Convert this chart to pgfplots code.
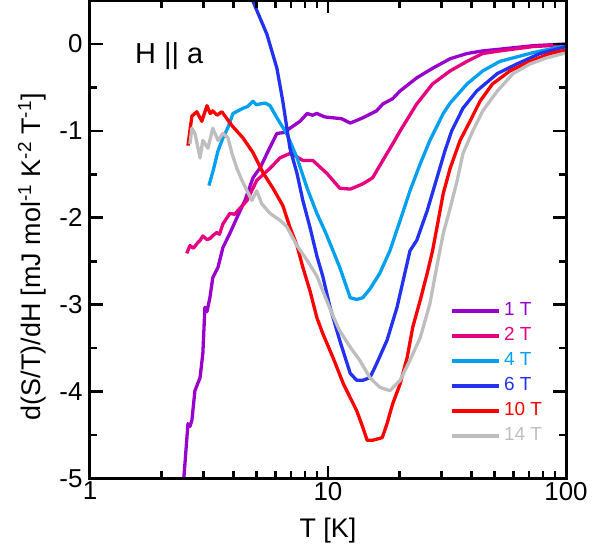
\documentclass[border=0pt]{standalone}
\usepackage{fontspec}
\setmainfont{Liberation Sans}
\usepackage{pgfplots}
\pgfplotsset{compat=1.18}

\definecolor{c1}{RGB}{153,0,204}
\definecolor{c2}{RGB}{230,0,130}
\definecolor{c4}{RGB}{0,160,240}
\definecolor{c6}{RGB}{35,50,240}
\definecolor{c10}{RGB}{255,0,0}
\definecolor{c14}{RGB}{190,190,190}

\begin{document}
\begin{tikzpicture}
\begin{axis}[
    xmode=log,
    scale only axis,
    axis on top,
    width=476bp, height=478bp,
    at={(0,0)}, anchor=south west,
    xmin=1, xmax=100, ymin=-5, ymax=0.5,
    xtick={1,10,100}, xticklabels={1,10,100},
    ytick={-5,-4,-3,-2,-1,0}, yticklabels={-5,-4,-3,-2,-1,0},
    minor y tick num=1,
    tick align=inside,
    major tick length=13bp, minor tick length=7.5bp,
    tick style={black, line width=2.6bp},
    axis line style={line width=3bp},
    ticklabel style={font=\fontsize{26}{31}\selectfont},
    yticklabel style={xshift=-4bp},
    label style={font=\fontsize{27}{32}\selectfont},
    xlabel={T [K]},
    xlabel style={at={(axis description cs:0.5,-0.1234)}, anchor=base},
    ylabel={d(S/T)/dH [mJ mol\textsuperscript{-1} K\textsuperscript{-2} T\textsuperscript{-1}]},
    ylabel style={at={(axis description cs:-0.105,0.464)}, anchor=base},
    legend style={at={(axis description cs:0.756,0.368)}, anchor=north west,
        draw=none, fill=none, inner sep=0pt, outer sep=0pt, row sep=8bp,
        font=\fontsize{19}{22}\selectfont,
        nodes={inner sep=0pt, text height=13bp, text depth=4bp},
        /tikz/every odd column/.append style={column sep=4bp}},
    legend cell align=left,
    legend image code/.code={\draw[#1] (0bp,0bp) -- (47bp,0bp);},
    every axis plot/.append style={line width=3.3bp, line join=round},
]
% 1 T
\addplot[c1] coordinates {
(2.47,-5.05) (2.48,-4.99) (2.58,-4.37) (2.63,-4.40) (2.68,-4.33) (2.76,-3.99) (2.90,-3.84)
(2.98,-3.56) (3.04,-3.03) (3.10,-3.08) (3.19,-2.92) (3.28,-2.69) (3.45,-2.57) (3.62,-2.34)
(3.87,-2.18) (4.14,-2.00) (4.48,-1.80) (4.84,-1.54) (5.20,-1.42) (5.54,-1.26) (6.10,-1.03)
(6.50,-1.02) (6.92,-0.97) (7.63,-0.89) (8.17,-0.80) (8.6,-0.82) (8.98,-0.80) (9.7,-0.84) (10.5,-0.85)
(11.4,-0.86) (12.4,-0.91) (13.2,-0.88) (14.0,-0.85) (16.0,-0.77) (17.0,-0.69) (18.7,-0.63)
(20.1,-0.54) (23.6,-0.39) (27.5,-0.28) (32.6,-0.17) (38.4,-0.11) (44.7,-0.08) (52.8,-0.06)
(72.7,-0.02) (100,0.0)
};
\addlegendentry{\textcolor{c1}{1 T}}
% 2 T
\addplot[c2] coordinates {
(2.55,-2.41) (2.63,-2.32) (2.72,-2.35) (2.81,-2.30) (2.90,-2.26) (2.98,-2.21) (3.10,-2.25)
(3.19,-2.24) (3.30,-2.20) (3.41,-2.17) (3.50,-2.19) (3.62,-2.07) (3.87,-1.95) (4.05,-1.96)
(4.27,-1.89) (4.57,-1.80) (5.02,-1.57) (5.71,-1.43) (6.29,-1.31) (6.92,-1.26) (7.40,-1.30)
(7.84,-1.34) (8.63,-1.34) (9.9,-1.49) (11.2,-1.66) (12.4,-1.67) (13.2,-1.64) (14.0,-1.61)
(15.4,-1.54) (17.0,-1.34) (18.7,-1.15) (20.1,-1.00) (23.6,-0.69) (27.5,-0.46) (32.6,-0.31)
(38.4,-0.20) (44.7,-0.11) (52.8,-0.08) (72.7,-0.03) (100,-0.01)
};
\addlegendentry{\textcolor{c2}{2 T}}
% 4 T
\addplot[c4] coordinates {
(3.16,-1.63) (3.29,-1.46) (3.45,-1.23) (3.62,-1.08) (3.80,-0.96) (3.99,-0.80) (4.39,-0.74)
(4.60,-0.72) (4.84,-0.66) (5.00,-0.70) (5.18,-0.69) (5.45,-0.68) (5.71,-0.71) (6.10,-0.85)
(6.70,-1.03) (7.41,-1.31) (8.17,-1.66) (8.98,-1.95) (9.70,-2.15) (10.5,-2.38) (11.2,-2.57)
(12.4,-2.92) (13.2,-2.94) (14.0,-2.92) (15.0,-2.82) (16.5,-2.64) (18.2,-2.38) (20.1,-2.03)
(22.1,-1.69) (24.4,-1.38) (26.8,-1.11) (30.5,-0.80) (32.6,-0.68) (38.4,-0.46) (44.7,-0.31)
(52.8,-0.20) (72.7,-0.10) (100,-0.02)
};
\addlegendentry{\textcolor{c4}{4 T}}
% 6 T
\addplot[c6] coordinates {
(4.75,0.60) (4.84,0.49) (5.54,0.11) (6.10,-0.28) (6.46,-0.66) (6.92,-1.20)
(7.41,-1.49) (7.84,-1.80) (8.40,-2.11) (8.98,-2.44) (9.50,-2.67) (10.2,-3.03)
(11.2,-3.41) (12.4,-3.79) (13.2,-3.87) (14.0,-3.87) (15.0,-3.84) (16.0,-3.68)
(17.7,-3.41) (19.5,-3.03) (20.7,-2.72) (22.1,-2.38) (23.6,-2.26) (26.1,-1.92)
(28.7,-1.54) (31.0,-1.23) (33.1,-1.00) (36.9,-0.74) (42.2,-0.54) (51.5,-0.34)
(62.2,-0.23) (77.8,-0.11) (100,-0.03)
};
\addlegendentry{\textcolor{c6}{6 T}}
% 10 T
\addplot[c10] coordinates {
(2.58,-1.17) (2.68,-0.83) (2.81,-0.78) (2.95,-0.89) (3.10,-0.71) (3.20,-0.80) (3.28,-0.77)
(3.42,-0.82) (3.58,-0.78) (3.95,-0.94) (4.39,-1.08) (4.84,-1.25) (5.33,-1.48) (5.87,-1.66)
(6.46,-1.86) (6.92,-2.11) (7.41,-2.32) (7.84,-2.57) (8.40,-2.84) (8.98,-3.15)
(9.50,-3.33) (10.5,-3.61) (11.6,-3.91) (12.4,-4.07) (13.2,-4.22) (14.0,-4.41)
(14.6,-4.56) (15.4,-4.56) (16.9,-4.53) (17.7,-4.37) (18.7,-4.14) (20.1,-3.91)
(21.5,-3.61) (22.7,-3.26) (24.4,-2.95) (26.1,-2.64) (27.5,-2.38) (28.7,-2.11)
(30.5,-1.72) (32.6,-1.43) (35.9,-1.11) (39.5,-0.89) (43.5,-0.66) (49.1,-0.46)
(58.2,-0.31) (70.6,-0.20) (85.7,-0.11) (100,-0.07)
};
\addlegendentry{\textcolor{c10}{10 T}}
% 14 T
\addplot[c14] coordinates {
(2.63,-1.15) (2.68,-0.97) (2.76,-1.03) (2.90,-1.31) (2.98,-1.11) (3.13,-1.20)
(3.28,-0.97) (3.45,-1.11) (3.62,-1.03) (3.80,-1.08) (3.95,-1.26) (4.14,-1.43)
(4.35,-1.57) (4.57,-1.69) (4.79,-1.80) (5.02,-1.69) (5.27,-1.84) (5.71,-1.95)
(6.29,-2.03) (6.70,-2.10) (7.41,-2.32) (8.17,-2.49) (8.98,-2.67) (9.70,-2.90)
(10.5,-3.13) (11.2,-3.30) (12.4,-3.49) (13.6,-3.64) (15.0,-3.84) (16.5,-3.95)
(18.2,-3.99) (20.1,-3.87) (22.1,-3.64) (24.4,-3.38) (26.8,-2.99) (28.7,-2.55)
(30.5,-2.18) (32.6,-1.89) (34.9,-1.57) (36.9,-1.26) (40.6,-1.00) (44.7,-0.77)
(51.5,-0.54) (60.0,-0.34) (70.6,-0.23) (83.0,-0.16) (97.5,-0.11) (100,-0.11)
};
\addlegendentry{\textcolor{c14}{14 T}}
\node[anchor=base west, font=\fontsize{29}{34}\selectfont, inner sep=0pt]
    at (axis cs:1.545,-0.23) {H || a};
\end{axis}
\pgfresetboundingbox
\path (-90bp,-71.5bp) rectangle (513bp,478.5bp);
\end{tikzpicture}
\end{document}
